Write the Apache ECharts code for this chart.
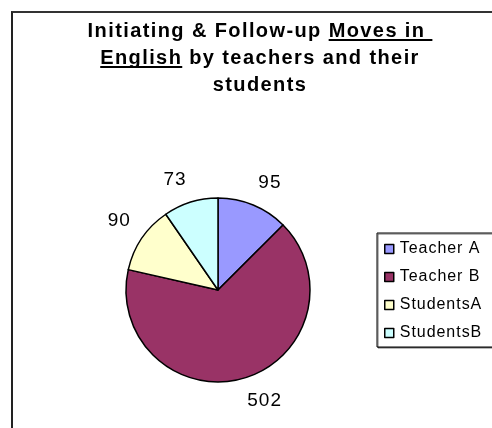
<!DOCTYPE html>
<html>
<head>
<meta charset="utf-8">
<script src="https://cdn.jsdelivr.net/npm/echarts@6/dist/echarts.min.js"></script>
<style>
  html, body { margin: 0; padding: 0; background: #fff; }
  #wrap { position: relative; width: 492px; height: 428px; overflow: hidden; }
  #frame { position: absolute; left: 11px; top: 11px; width: 600px; height: 600px;
           border-left: 2px solid #222; border-top: 2px solid #333; box-sizing: border-box; }
  #chart { position: absolute; left: 0; top: 0; width: 492px; height: 428px; }
</style>
</head>
<body>
<div id="wrap">
  <div id="frame"></div>
  <div id="chart"></div>
</div>
<script>
// Initiating & follow-up moves in English, by speaker
const legendNames = ['Teacher A', 'Teacher B', 'StudentsA', 'StudentsB'];
const moves = [95, 502, 90, 73];
const sliceColors = ['#9999FF', '#993366', '#FFFFCC', '#CCFFFF'];

const FONT = '"Liberation Sans", Arial, sans-serif';
const PIE_CENTER = [218, 290];
const PIE_RADIUS = 92;

// Office-style loose tracking: add letter spacing whenever a canvas font is set,
// so measuring and drawing stay consistent.
(function () {
  const proto = CanvasRenderingContext2D.prototype;
  const desc = Object.getOwnPropertyDescriptor(proto, 'font');
  if (!desc || !('letterSpacing' in proto)) return;
  Object.defineProperty(proto, 'font', {
    configurable: true,
    get() { return desc.get.call(this); },
    set(v) {
      desc.set.call(this, v);
      const m = /(\d+(?:\.\d+)?)px/.exec(v);
      const size = m ? parseFloat(m[1]) : 12;
      const bold = /bold|[6-9]00/.test(v);
      this.letterSpacing = (size * (bold ? 0.07 : 0.06)).toFixed(2) + 'px';
    }
  });
})();

const pieData = moves.map((v, i) => ({
  name: legendNames[i],
  value: v,
  itemStyle: { color: sliceColors[i] }
}));

// underline drawn as a thin band at the bottom of the text box
const underline = new echarts.graphic.LinearGradient(0, 0, 0, 1, [
  { offset: 0, color: 'rgba(0,0,0,0)' },
  { offset: 0.87, color: 'rgba(0,0,0,0)' },
  { offset: 0.87, color: '#000' },
  { offset: 0.94, color: '#000' },
  { offset: 0.94, color: 'rgba(0,0,0,0)' },
  { offset: 1, color: 'rgba(0,0,0,0)' }
]);

const chart = echarts.init(document.getElementById('chart'), null, { renderer: 'canvas' });
chart.setOption({
  backgroundColor: 'transparent',
  animation: false,
  title: {
    text: 'Initiating & Follow-up {u|Moves in }\n{u|English} by teachers and their\nstudents',
    left: 255,
    top: 13,
    textAlign: 'center',
    textStyle: {
      fontFamily: FONT,
      fontWeight: 'bold',
      fontSize: 20,
      lineHeight: 27,
      color: '#000',
      rich: {
        u: {
          fontFamily: FONT,
          fontWeight: 'bold',
          fontSize: 20,
          lineHeight: 27,
          color: '#000',
          backgroundColor: underline
        }
      }
    }
  },
  legend: {
    orient: 'vertical',
    left: 377,
    top: 233,
    data: legendNames,
    icon: 'rect',
    itemWidth: 9,
    itemHeight: 9,
    itemGap: 10,
    padding: [7, 40, 5, 7],
    borderColor: '#000',
    borderWidth: 1,
    backgroundColor: '#fff',
    shadowColor: 'rgba(0,0,0,0.55)',
    shadowOffsetX: 1,
    shadowOffsetY: 1,
    shadowBlur: 0,
    itemStyle: { borderColor: '#000', borderWidth: 1.5 },
    selectedMode: false,
    textStyle: {
      fontFamily: FONT,
      fontSize: 16,
      lineHeight: 18,
      color: '#000',
      padding: [0, 0, 0, 1]
    }
  },
  series: [
    {
      type: 'pie',
      center: PIE_CENTER,
      radius: [0, PIE_RADIUS],
      startAngle: 90,
      clockwise: true,
      data: pieData,
      itemStyle: { borderColor: '#000', borderWidth: 1.5 },
      label: { show: false },
      labelLine: { show: false },
      emphasis: { disabled: true }
    },
    {
      // value labels: anchored on a ring just outside the pie, then pushed
      // outward by half their own box so they clear the edge
      type: 'pie',
      center: PIE_CENTER,
      radius: [PIE_RADIUS, 112],
      startAngle: 90,
      clockwise: true,
      silent: true,
      data: moves.map((v, i) => ({ name: legendNames[i], value: v })),
      itemStyle: { color: 'rgba(0,0,0,0)' },
      label: {
        show: true,
        position: 'inside',
        formatter: '{c}',
        fontFamily: FONT,
        fontSize: 19,
        lineHeight: 18,
        color: '#000'
      },
      labelLine: { show: false },
      labelLayout: function (p) {
        const r = p.labelRect;
        const cx = r.x + r.width / 2;
        const cy = r.y + r.height / 2;
        return {
          dx: Math.sign(cx - PIE_CENTER[0]) * r.width / 2,
          dy: Math.sign(cy - PIE_CENTER[1]) * r.height / 2
        };
      },
      emphasis: { disabled: true }
    }
  ]
});
</script>
</body>
</html>
